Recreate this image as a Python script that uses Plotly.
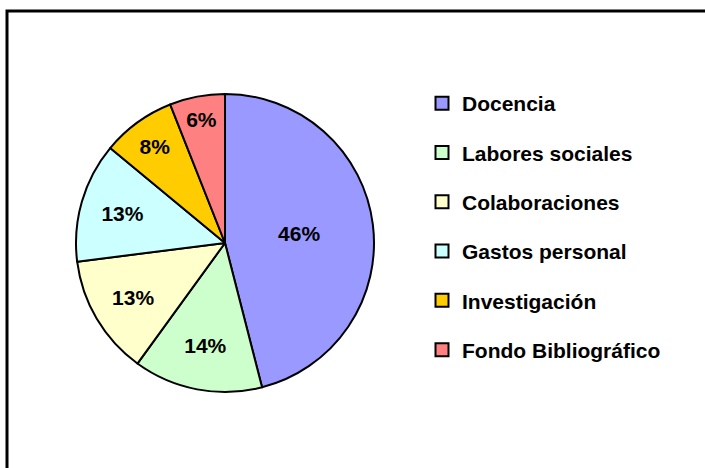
import plotly.graph_objects as go

categories = ["Docencia", "Labores sociales", "Colaboraciones", "Gastos personal", "Investigación", "Fondo Bibliográfico"]
values = [46, 14, 13, 13, 8, 6]
colors = ["#9999FF", "#CCFFCC", "#FFFFCC", "#CCFFFF", "#FFCC00", "#FF8080"]

W, H = 705, 468
FONT = "Liberation Sans, Arial, sans-serif"

fig = go.Figure()
fig.add_trace(go.Pie(
    labels=categories, values=values, sort=False, direction="clockwise", rotation=0,
    marker=dict(colors=colors, line=dict(color="black", width=2)),
    textinfo="percent", texttemplate="<b>%{percent:.0%}</b>", textposition="inside",
    insidetextorientation="horizontal",
    textfont=dict(family=FONT, size=21, color="black"),
    domain=dict(x=[76 / W, 374 / W], y=[1 - 392 / H, 1 - 94 / H]),
    showlegend=False, hoverinfo="label+percent",
))
for name, c in zip(categories, colors):
    fig.add_trace(go.Scatter(
        x=[None], y=[None], mode="markers", name=f"<b>{name}</b>", legendgroup=name,
        marker=dict(symbol="square", size=13, color=c, line=dict(color="black", width=2)),
    ))

fig.update_layout(
    width=W, height=H, margin=dict(l=0, r=0, t=0, b=0),
    paper_bgcolor="white", plot_bgcolor="white",
    xaxis=dict(visible=False), yaxis=dict(visible=False),
    legend=dict(x=422 / W, y=1 - 83 / H, xanchor="left", yanchor="top",
                font=dict(family=FONT, size=21, color="black"),
                tracegroupgap=19, bgcolor="rgba(0,0,0,0)"),
    shapes=[dict(type="rect", xref="paper", yref="paper",
                 x0=7 / W, y0=-0.05, x1=1.05, y1=1 - 11 / H,
                 line=dict(color="black", width=3))],
)
fig.write_html("out.html", config={"displayModeBar": False},
               post_script="document.body.style.margin='0';")
